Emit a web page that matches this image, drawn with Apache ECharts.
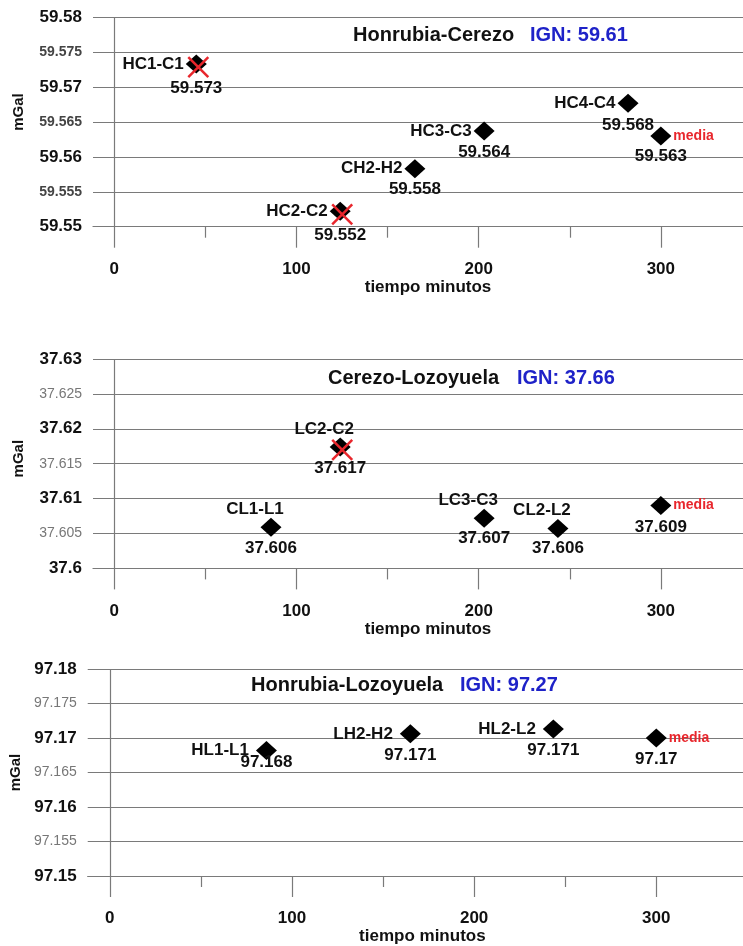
<!DOCTYPE html>
<html>
<head>
<meta charset="utf-8">
<script src="https://cdn.jsdelivr.net/npm/echarts@6/dist/echarts.min.js"></script>
<style>html,body{margin:0;padding:0;background:#fff}#c{width:743px;height:946px}</style>
</head>
<body>
<div id="c"></div>
<script>
// ---------------- DATA ----------------
const xTickValues = [0, 100, 200, 300];
const xMinorTickValues = [50, 150, 250];
const xAxisName = 'tiempo minutos';
const yAxisName = 'mGal';

// Honrubia-Cerezo
const hcTitle = 'Honrubia-Cerezo';
const hcIGN = 'IGN: 59.61';
const hcNames = ['HC1-C1', 'HC2-C2', 'CH2-H2', 'HC3-C3', 'HC4-C4', 'media'];
const hcTime = [45, 124, 165, 203, 282, 300];
const hcGrav = [59.5733, 59.5522, 59.5583, 59.5637, 59.5677, 59.5630];
const hcRejected = [true, true, false, false, false, false];
const hcYRange = [59.55, 59.58];

// Cerezo-Lozoyuela
const clTitle = 'Cerezo-Lozoyuela';
const clIGN = 'IGN: 37.66';
const clNames = ['CL1-L1', 'LC2-C2', 'LC3-C3', 'CL2-L2', 'media'];
const clTime = [86, 124, 203, 243.5, 300];
const clGrav = [37.6059, 37.6174, 37.6072, 37.6057, 37.6090];
const clRejected = [false, true, false, false, false];
const clYRange = [37.60, 37.63];

// Honrubia-Lozoyuela
const hlTitle = 'Honrubia-Lozoyuela';
const hlIGN = 'IGN: 97.27';
const hlNames = ['HL1-L1', 'LH2-H2', 'HL2-L2', 'media'];
const hlTime = [86, 165, 243.5, 300];
const hlGrav = [97.1682, 97.1706, 97.1713, 97.1700];
const hlRejected = [false, false, false, false];
const hlYRange = [97.15, 97.18];

const yInterval = 0.005;

// ---------------- LAYOUT / STYLE ----------------
const FONT = "'Liberation Sans', Arial, Helvetica, sans-serif";
const GRIDC = '#7a7a7a';
const panels = [
  { names: hcNames, time: hcTime, grav: hcGrav, rej: hcRejected, yr: hcYRange, title: hcTitle, ign: hcIGN,
    top: 17.3, left: 93, xmin: -11.7, xmax: 345.1, titleLeft: 353, ignLeft: 530, titleTop: 25,
    nameSide: ['left', 'left', 'left', 'left', 'left', 'right'], nameDist: 2, nameOffX: 0,
    valueDy: [24, 24, 21, 21, 22, 20], minorBold: true, xNamePad: 20, yNameGap: 67, yNamePad: 20 },
  { names: clNames, time: clTime, grav: clGrav, rej: clRejected, yr: clYRange, title: clTitle, ign: clIGN,
    top: 359, left: 93, xmin: -11.7, xmax: 345.1, titleLeft: 328, ignLeft: 517, titleTop: 368,
    nameSide: ['top', 'top', 'top', 'top', 'right'], nameDist: 0, nameOffX: -16,
    valueDy: [21, 21, 20, 20, 22], minorBold: false, xNamePad: 20, yNameGap: 67, yNamePad: 10 },
  { names: hlNames, time: hlTime, grav: hlGrav, rej: hlRejected, yr: hlYRange, title: hlTitle, ign: hlIGN,
    top: 669, left: 87.3, xmin: -12.1, xmax: 347.6, titleLeft: 251, ignLeft: 460, titleTop: 675,
    nameSide: ['left', 'left', 'left', 'right'], nameDist: 7, nameOffX: 0,
    valueDy: [12, 21, 21, 21], minorBold: false, xNamePad: 14, yNameGap: 62, yNamePad: 0 }
];
const GRID_H = 209.4;

function fmt(v) { return String(parseFloat(v.toFixed(3))); }
function isMajor(v) { const s = v * 100; return Math.abs(s - Math.round(s)) < 1e-6; }

const option = {
  animation: false,
  backgroundColor: '#fff',
  title: [], grid: [], xAxis: [], yAxis: [], series: []
};

panels.forEach((P, i) => {
  option.title.push({
    text: P.title, left: P.titleLeft, top: P.titleTop, padding: 0,
    textStyle: { fontFamily: FONT, fontSize: 20, fontWeight: 'bold', color: '#111' }
  });
  option.title.push({
    text: P.ign, left: P.ignLeft, top: P.titleTop, padding: 0,
    textStyle: { fontFamily: FONT, fontSize: 20, fontWeight: 'bold', color: '#1e22c8' }
  });
  option.grid.push({ left: P.left, right: 0, top: P.top, height: GRID_H, containLabel: false });
  option.xAxis.push({
    type: 'value', gridIndex: i, min: P.xmin, max: P.xmax, position: 'bottom',
    axisLine: { show: true, onZero: false, lineStyle: { color: GRIDC, width: 1.2 } },
    splitLine: { show: false },
    axisTick: { show: true, customValues: xTickValues, length: 21, lineStyle: { color: GRIDC, width: 1.2 } },
    axisLabel: { customValues: xTickValues, margin: 34, fontFamily: FONT, fontSize: 17, fontWeight: 'bold', color: '#111' },
    name: xAxisName, nameLocation: 'middle', nameGap: 52,
    nameTextStyle: { fontFamily: FONT, fontSize: 17, fontWeight: 'bold', color: '#111', padding: [0, 0, 0, P.xNamePad] }
  });
  option.xAxis.push({
    type: 'value', gridIndex: i, min: P.xmin, max: P.xmax, position: 'bottom',
    axisLine: { show: false, onZero: false },
    splitLine: { show: false },
    axisTick: { show: true, customValues: xMinorTickValues, length: 11, lineStyle: { color: GRIDC, width: 1.2 } },
    axisLabel: { show: false }
  });
  option.yAxis.push({
    type: 'value', gridIndex: i, min: P.yr[0], max: P.yr[1], interval: yInterval,
    axisLine: { show: false, onZero: false }, axisTick: { show: false },
    splitLine: { show: true, lineStyle: { color: GRIDC, width: 1.2 } },
    axisLabel: {
      margin: 11,
      formatter: v => isMajor(v) ? '{a|' + fmt(v) + '}' : '{b|' + fmt(v) + '}',
      rich: {
        a: { fontFamily: FONT, fontSize: 17, fontWeight: 'bold', color: '#111' },
        b: { fontFamily: FONT, fontSize: 14, fontWeight: P.minorBold ? 'bold' : 'normal', color: P.minorBold ? '#444' : '#777' }
      }
    },
    name: yAxisName, nameLocation: 'middle', nameGap: P.yNameGap, nameRotate: 90,
    nameTextStyle: { fontFamily: FONT, fontSize: 15, fontWeight: 'bold', color: '#111', padding: [0, 0, 0, P.yNamePad] }
  });

  // diamonds with name labels
  option.series.push({
    type: 'scatter', xAxisIndex: 2 * i, yAxisIndex: i, silent: true, z: 3,
    symbol: 'diamond', symbolSize: [21, 19], itemStyle: { color: '#000', opacity: 1 },
    data: P.names.map((n, k) => {
      const side = P.nameSide[k];
      const media = n === 'media';
      return {
        name: n, value: [P.time[k], P.grav[k]],
        label: media
          ? { position: 'right', distance: 2, fontSize: 14, color: '#e8262c' }
          : { position: side, distance: P.nameDist, offset: side === 'top' ? [P.nameOffX, 0] : [0, 0] }
      };
    }),
    label: { show: true, opacity: 1, formatter: p => p.name, fontFamily: FONT, fontSize: 17, fontWeight: 'bold', color: '#111' },
    markLine: {
      silent: true, symbol: 'none', label: { show: false },
      lineStyle: { color: GRIDC, type: 'solid', width: 1.2, opacity: 1 },
      data: [{ xAxis: 0 }]
    }
  });
  // value labels
  option.series.push({
    type: 'scatter', xAxisIndex: 2 * i, yAxisIndex: i, silent: true, z: 4,
    symbol: 'circle', symbolSize: 2, itemStyle: { color: 'rgba(0,0,0,0)', opacity: 1 },
    data: P.names.map((n, k) => ({
      value: [P.time[k], P.grav[k]],
      label: { offset: [0, P.valueDy[k]] }
    })),
    label: { show: true, opacity: 1, position: 'inside', formatter: p => fmt(p.value[1]),
      fontFamily: FONT, fontSize: 17, fontWeight: 'bold', color: '#111' }
  });
  // rejected crosses
  const rejData = [];
  P.names.forEach((n, k) => { if (P.rej[k]) rejData.push([P.time[k], P.grav[k]]); });
  if (rejData.length) {
    option.series.push({
      type: 'scatter', xAxisIndex: 2 * i, yAxisIndex: i, silent: true, z: 5,
      symbol: 'path://M0,0L20,20M20,0L0,20', symbolSize: 20, symbolOffset: [2, 3],
      itemStyle: { color: 'none', borderColor: '#e8262c', borderWidth: 2.5, opacity: 1 },
      data: rejData
    });
  }
});

const chart = echarts.init(document.getElementById('c'), null, { renderer: 'canvas' });
chart.setOption(option);
</script>
</body>
</html>
